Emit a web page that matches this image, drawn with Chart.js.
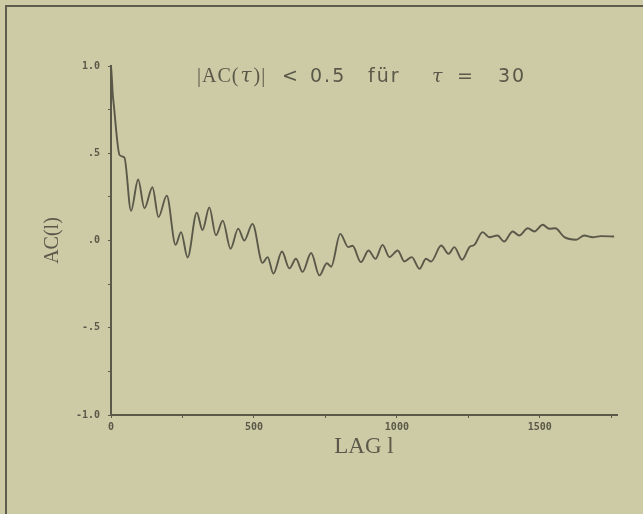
<!DOCTYPE html>
<html>
<head>
<meta charset="utf-8">
<script src="https://cdn.jsdelivr.net/npm/chart.js@4.4.1/dist/chart.umd.min.js"></script>
<style>
  html, body { margin: 0; padding: 0; background: #cdcaa6; }
  #wrap { position: relative; width: 643px; height: 514px; overflow: hidden; }
  #frame { position: absolute; left: 5px; top: 5px; width: 700px; height: 600px;
           border-left: 2px solid #5e5c4c; border-top: 2px solid #5e5c4c; }
  canvas { position: absolute; left: 0; top: 0; }
</style>
</head>
<body>
<div id="wrap">
  <div id="frame"></div>
  <canvas id="acChart" width="643" height="514"></canvas>
</div>
<script>
// autocorrelation AC(l)
const lags = [0, 3, 6, 9, 30, 47, 70, 95, 117, 145, 166, 195, 226, 245, 268, 300, 320, 344, 367, 391, 418,
    445, 466, 495, 530, 548, 568, 598, 624, 647, 670, 700, 729, 755, 770, 802, 830, 845, 874, 901, 925,
    950, 974, 1003, 1026, 1052, 1079, 1102, 1120, 1155, 1181, 1201, 1228, 1254, 1271, 1300, 1323, 1352,
    1375, 1405, 1428, 1458, 1481, 1510, 1533, 1554, 1586, 1627, 1655, 1685, 1714, 1760];
const acValues = [1.0, 0.93, 0.84, 0.79, 0.49, 0.475, 0.17, 0.35, 0.185, 0.305, 0.134, 0.257, -0.025, 0.048, -0.097,
    0.16, 0.06, 0.19, 0.03, 0.114, -0.047, 0.068, 0.0, 0.095, -0.128, -0.095, -0.19, -0.063, -0.16, -0.105,
    -0.18, -0.072, -0.2, -0.13, -0.15, 0.038, -0.038, -0.03, -0.124, -0.057, -0.105, -0.025, -0.095, -0.057,
    -0.12, -0.095, -0.162, -0.105, -0.12, -0.029, -0.076, -0.038, -0.11, -0.038, -0.025, 0.048, 0.019, 0.029,
    -0.006, 0.052, 0.029, 0.07, 0.052, 0.09, 0.067, 0.07, 0.019, 0.004, 0.029, 0.019, 0.025, 0.023];

const xTickValues = [0, 250, 500, 750, 1000, 1250, 1500, 1750];
const xTickLabels = ['0', '', '500', '', '1000', '', '1500', ''];
const yTickValues = [-1, -0.75, -0.5, -0.25, 0, 0.25, 0.5, 0.75, 1];
const yTickLabels = ['-1.0', '', '-.5', '', '.0', '', '.5', '', '1.0'];

const ink = '#5a5949';

// title above the curve, written piece by piece like the plotter did
const titlePlugin = {
    id: 'plotTitle',
    afterDraw(chart) {
        const ctx = chart.ctx;
        ctx.save();
        ctx.fillStyle = ink;
        ctx.textBaseline = 'alphabetic';
        ctx.letterSpacing = '1px';
        const parts = [
            ['|AC(', '20px "Liberation Serif"'],
            ['τ', 'italic 20px "DejaVu Serif"'],
            [')|', '20px "Liberation Serif"']
        ];
        let x = 197;
        parts.forEach(([t, f]) => {
            ctx.font = f;
            ctx.fillText(t, x, 82);
            x += ctx.measureText(t).width + 1;
        });
        ctx.font = '19px "DejaVu Sans"';
        ctx.letterSpacing = '2px';
        ctx.fillText('<', 282, 82);
        ctx.fillText('0.5', 310, 82);
        ctx.fillText('für', 368, 82);
        ctx.font = 'italic 19px "DejaVu Serif"';
        ctx.fillText('τ', 432, 82);
        ctx.font = '19px "DejaVu Sans"';
        ctx.fillText('=', 457, 82);
        ctx.fillText('30', 498, 82);
        ctx.restore();
    }
};

const ctx = document.getElementById('acChart').getContext('2d');
new Chart(ctx, {
    type: 'line',
    data: {
        datasets: [{
            data: lags.map((l, i) => ({ x: l, y: acValues[i] })),
            borderColor: ink,
            borderWidth: 1.9,
            pointRadius: 0,
            cubicInterpolationMode: 'monotone',
            fill: false
        }]
    },
    options: {
        responsive: false,
        animation: false,
        layout: { padding: { top: 66, right: 26, left: 0, bottom: 0 } },
        plugins: { legend: { display: false }, tooltip: { enabled: false } },
        scales: {
            x: {
                type: 'linear',
                min: 0,
                max: 1770,
                afterFit(scale) { scale.height = 99; },
                afterBuildTicks(scale) { scale.ticks = xTickValues.map(v => ({ value: v })); },
                grid: { drawOnChartArea: false, drawTicks: true, tickLength: 3, color: ink },
                border: { color: ink, width: 2 },
                ticks: {
                    autoSkip: false,
                    maxRotation: 0,
                    padding: 3,
                    color: ink,
                    font: { family: '"DejaVu Sans Mono"', size: 10, weight: 'bold' },
                    callback: (v) => xTickLabels[xTickValues.indexOf(v)] ?? ''
                },
                title: {
                    display: true,
                    text: 'LAG l',
                    color: ink,
                    font: { family: '"Liberation Serif"', size: 23 },
                    padding: { top: 0, bottom: 53 }
                }
            },
            y: {
                min: -1,
                max: 1,
                afterFit(scale) { scale.width = 111; },
                afterBuildTicks(scale) { scale.ticks = yTickValues.map(v => ({ value: v })); },
                grid: { drawOnChartArea: false, drawTicks: true, tickLength: 3, color: ink },
                border: { color: ink, width: 2 },
                ticks: {
                    autoSkip: false,
                    padding: 8,
                    color: ink,
                    font: { family: '"DejaVu Sans Mono"', size: 10, weight: 'bold' },
                    callback: (v) => yTickLabels[yTickValues.indexOf(v)] ?? ''
                },
                title: {
                    display: true,
                    text: 'AC(l)',
                    color: ink,
                    font: { family: '"Liberation Serif"', size: 20 },
                    padding: { top: 41, bottom: 0 }
                }
            }
        }
    },
    plugins: [titlePlugin]
});
</script>
</body>
</html>
